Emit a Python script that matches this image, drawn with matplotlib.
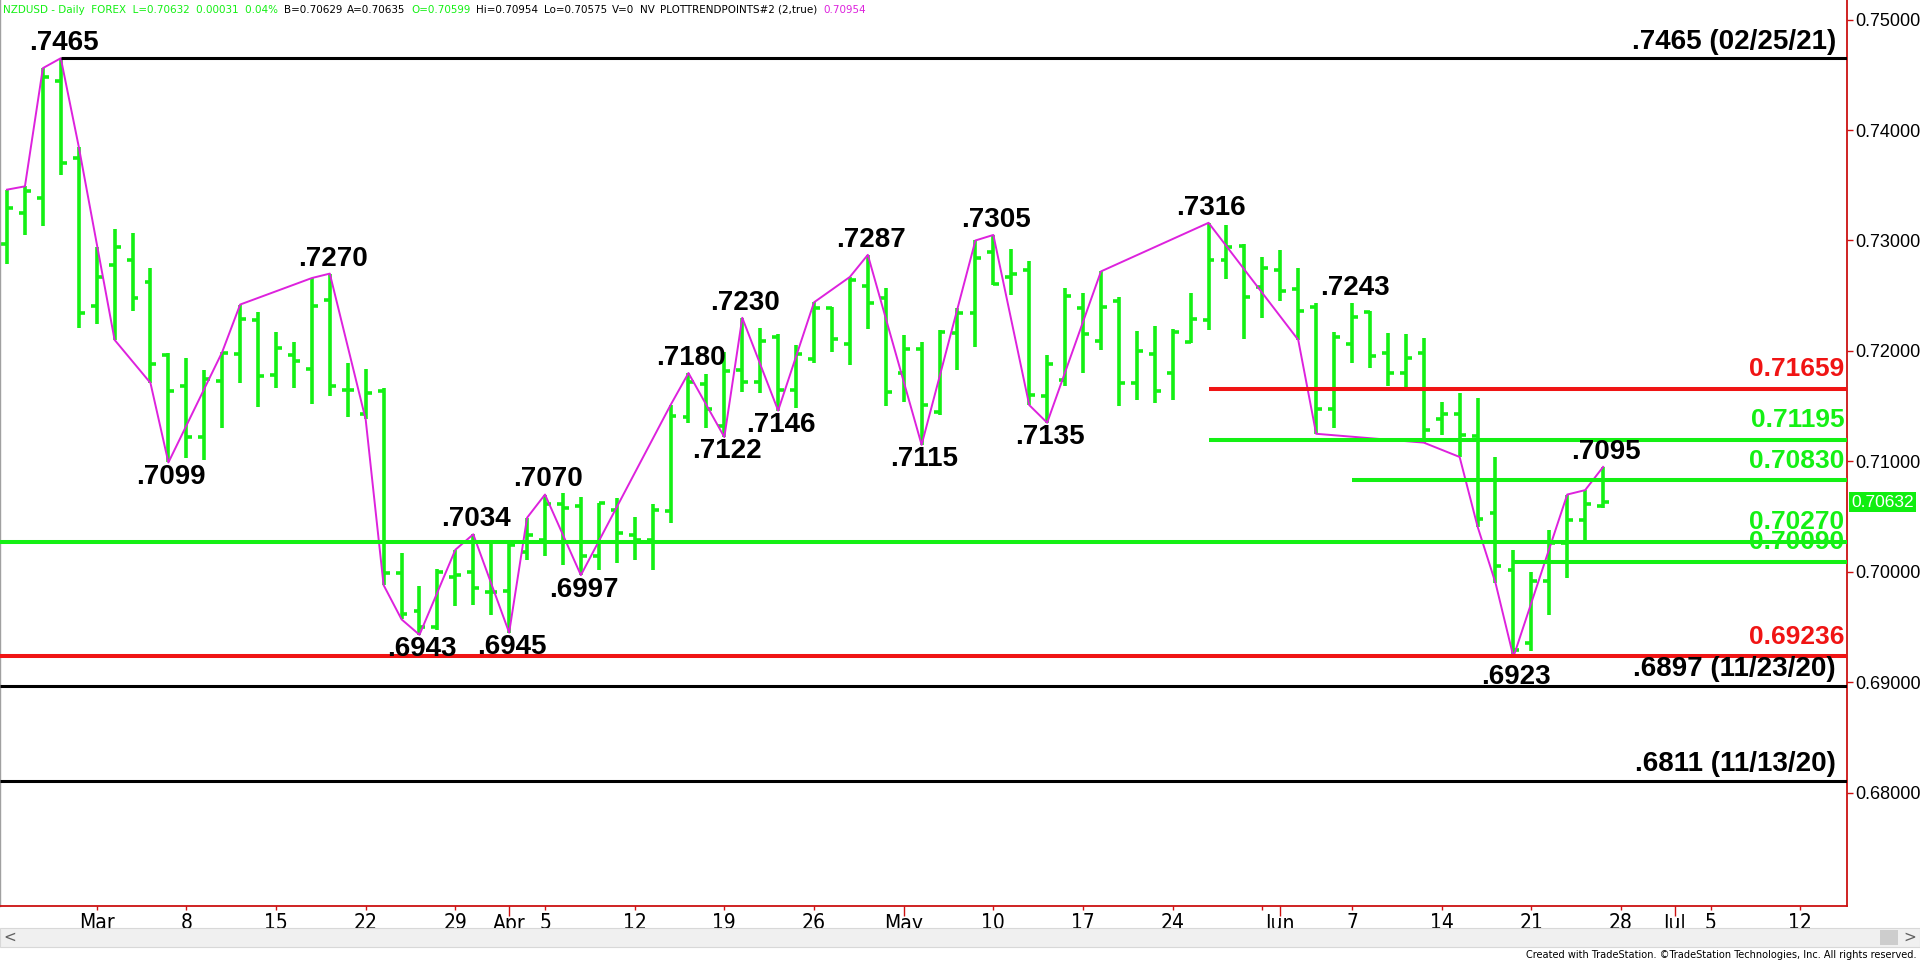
import matplotlib
matplotlib.use("Agg")
import matplotlib.pyplot as plt
from matplotlib import font_manager as fm
from matplotlib.font_manager import FontProperties
from matplotlib.patches import Rectangle
import numpy as np

W, H = 1920, 963

# daily bars, index 0 = Mon 22 Feb 2021 (trading days only)
opens = [0.7297, 0.7325, 0.7338, 0.7444, 0.7375, 0.7241, 0.7278, 0.7282, 0.7262, 0.7196,
         0.7168, 0.7122, 0.7173, 0.7197, 0.7228, 0.7178, 0.7196, 0.7184, 0.7246, 0.7165,
         0.7143, 0.7164, 0.6999, 0.6965, 0.6950, 0.6995, 0.7000, 0.6982, 0.6983, 0.7018,
         0.7029, 0.7061, 0.7060, 0.7014, 0.7056, 0.7033, 0.7029, 0.7055, 0.7140, 0.7170,
         0.7132, 0.7183, 0.7172, 0.7213, 0.7165, 0.7193, 0.7239, 0.7206, 0.7259, 0.7248,
         0.7180, 0.7202, 0.7145, 0.7216, 0.7234, 0.7290, 0.7267, 0.7273, 0.7159, 0.7174,
         0.7239, 0.7209, 0.7245, 0.7171, 0.7197, 0.7180, 0.7208, 0.7228, 0.7282, 0.7295,
         0.7258, 0.7273, 0.7256, 0.7240, 0.7147, 0.7206, 0.7235, 0.7198, 0.7180, 0.7198,
         0.7138, 0.7143, 0.7123, 0.7053, 0.7002, 0.6936, 0.6992, 0.7026, 0.7047, 0.7060]
highs = [0.7346, 0.7349, 0.7456, 0.7465, 0.7385, 0.7294, 0.7310, 0.7307, 0.7275, 0.7198,
         0.7194, 0.7183, 0.7199, 0.7242, 0.7235, 0.7217, 0.7208, 0.7266, 0.7270, 0.7189,
         0.7184, 0.7166, 0.7017, 0.6987, 0.7003, 0.7020, 0.7034, 0.7026, 0.7026, 0.7049,
         0.7070, 0.7071, 0.7068, 0.7062, 0.7067, 0.7050, 0.7061, 0.7151, 0.7180, 0.7179,
         0.7199, 0.7230, 0.7221, 0.7215, 0.7205, 0.7244, 0.7240, 0.7267, 0.7287, 0.7257,
         0.7214, 0.7208, 0.7219, 0.7239, 0.7300, 0.7305, 0.7292, 0.7281, 0.7196, 0.7257,
         0.7252, 0.7272, 0.7249, 0.7218, 0.7223, 0.7220, 0.7252, 0.7316, 0.7314, 0.7297,
         0.7285, 0.7291, 0.7275, 0.7243, 0.7217, 0.7243, 0.7236, 0.7216, 0.7215, 0.7212,
         0.7154, 0.7162, 0.7157, 0.7104, 0.7020, 0.7000, 0.7038, 0.7070, 0.7074, 0.7095]
lows = [0.7279, 0.7305, 0.7313, 0.7359, 0.7221, 0.7224, 0.7210, 0.7236, 0.7171, 0.7099,
        0.7103, 0.7101, 0.7130, 0.7171, 0.7149, 0.7166, 0.7166, 0.7152, 0.7159, 0.7140,
        0.7138, 0.6988, 0.6957, 0.6943, 0.6947, 0.6969, 0.6970, 0.6961, 0.6945, 0.7011,
        0.7014, 0.7006, 0.6997, 0.7002, 0.7008, 0.7011, 0.7002, 0.7044, 0.7135, 0.7130,
        0.7122, 0.7163, 0.7162, 0.7146, 0.7148, 0.7189, 0.7199, 0.7187, 0.7220, 0.7150,
        0.7154, 0.7115, 0.7142, 0.7183, 0.7204, 0.7260, 0.7251, 0.7151, 0.7135, 0.7168,
        0.7180, 0.7201, 0.7150, 0.7156, 0.7153, 0.7156, 0.7207, 0.7219, 0.7265, 0.7211,
        0.7230, 0.7245, 0.7210, 0.7125, 0.7130, 0.7189, 0.7185, 0.7168, 0.7164, 0.7117,
        0.7124, 0.7104, 0.7041, 0.6990, 0.6923, 0.6928, 0.6961, 0.6994, 0.7026, 0.7058]
closes = [0.7329, 0.7345, 0.7448, 0.7370, 0.7234, 0.7267, 0.7294, 0.7248, 0.7188, 0.7164,
          0.7122, 0.7175, 0.7198, 0.7229, 0.7177, 0.7203, 0.7191, 0.7241, 0.7168, 0.7165,
          0.7162, 0.6999, 0.6962, 0.6950, 0.7000, 0.6997, 0.6985, 0.6982, 0.7024, 0.7033,
          0.7061, 0.7058, 0.7014, 0.7062, 0.7035, 0.7029, 0.7056, 0.7141, 0.7172, 0.7147,
          0.7182, 0.7172, 0.7209, 0.7165, 0.7197, 0.7239, 0.7211, 0.7264, 0.7243, 0.7163,
          0.7202, 0.7151, 0.7217, 0.7234, 0.7284, 0.7261, 0.7270, 0.7160, 0.7188, 0.7250,
          0.7215, 0.7240, 0.7171, 0.7200, 0.7164, 0.7217, 0.7229, 0.7282, 0.7294, 0.7249,
          0.7275, 0.7254, 0.7236, 0.7147, 0.7213, 0.7231, 0.7195, 0.7180, 0.7194, 0.7128,
          0.7143, 0.7124, 0.7048, 0.7005, 0.6929, 0.6992, 0.7026, 0.7047, 0.7061, 0.70632]

# PLOTTRENDPOINTS zigzag: bar index and which end of the bar
trend_idx = [0, 1, 2, 3, 4, 6, 8, 9, 12, 13, 17, 18, 20, 21, 22, 23, 25, 26, 28, 29,
             30, 32, 37, 38, 40, 41, 43, 45, 47, 48, 51, 54, 55, 57, 58, 61, 67, 72, 73, 79,
             81, 82, 83, 84, 87, 88, 89]
trend_side = "HHHHHLLLHHHHLLLLHHLHHLHHLHLHHHLHHLLHHLLLLLLLHHH"

# swing labels
swing_idx = [3, 9, 18, 23, 26, 28, 30, 32, 38, 40, 41, 43, 48, 51, 55, 58, 67, 75, 84, 89]
swing_side = "HLHLHLHLHLHLHLHLHHLH"

# horizontal levels
level_px = [0.7465, 0.71659, 0.71195, 0.70830, 0.70270, 0.70090, 0.69236, 0.6897, 0.6811]
level_from = [3, 67, 67, 75, None, 84, None, None, None]
level_kind = ["black", "red", "green", "green", "green", "green", "red", "black", "black"]
level_text = [".7465 (02/25/21)", None, None, None, None, None, None,
              ".6897 (11/23/20)", ".6811 (11/13/20)"]

week_idx = [5, 10, 15, 20, 25, 30, 35, 40, 45, 55, 60, 65, 70, 75, 80, 85, 90, 95, 100]
week_lbl = ["Mar", "8", "15", "22", "29", "5", "12", "19", "26", "10", "17", "24", "",
            "7", "14", "21", "28", "5", "12"]
month_idx = [28, 50, 71, 93]
month_lbl = ["Apr", "May", "Jun", "Jul"]

last_price = 0.70632
header = [("NZDUSD - Daily  FOREX  L=0.70632  0.00031  0.04%", "green"),
          ("B=0.70629", "black"), ("A=0.70635", "black"), ("O=0.70599", "green"),
          ("Hi=0.70954", "black"), ("Lo=0.70575", "black"), ("V=0", "black"),
          ("NV", "black"), ("PLOTTRENDPOINTS#2 (2,true)", "black"), ("0.70954", "magenta")]
footer = "Created with TradeStation. \u00a9TradeStation Technologies, Inc. All rights reserved."

GREEN = "#14f014"
RED = "#f01414"
AXRED = "#cc1111"
MAGENTA = "#dd22dd"
COLORS = {"green": GREEN, "red": RED, "black": "black", "magenta": MAGENTA}

SANS = "Liberation Sans"


def find_narrow():
    best = None
    for f in fm.fontManager.ttflist:
        n = f.name
        if "Mono" in n or "Serif" in n:
            continue
        w = f.weight if isinstance(f.weight, int) else (400 if f.weight in ("normal", "regular", "book") else 700)
        if w > 500 or f.style != "normal":
            continue
        if "Narrow" in n or "Condensed" in n or f.stretch in ("condensed", "semi-condensed", 375, 300):
            rank = 0 if "Liberation" in n else 1
            if best is None or rank < best[0]:
                best = (rank, f.fname)
    return best[1] if best else None


nfile = find_narrow()


def nprops(size):
    if nfile:
        return FontProperties(fname=nfile, size=size)
    return FontProperties(family=SANS, size=size * 0.85)


fig = plt.figure(figsize=(W / 100, H / 100), dpi=100, facecolor="white")
ax = fig.add_axes([0, 57 / H, 1847 / W, 906 / H])
ax.set_xlim(-0.39, 102.6)
ax.set_ylim(0.66975, 0.75177)

idx = np.arange(len(opens))
tw = 0.33
ax.vlines(idx, lows, highs, color=GREEN, lw=2.6, zorder=2)
ax.hlines(opens, idx - tw, idx, color=GREEN, lw=2.6, zorder=2)
ax.hlines(closes, idx, idx + tw, color=GREEN, lw=2.6, zorder=2)

tp = [highs[i] if s == "H" else lows[i] for i, s in zip(trend_idx, trend_side)]
ax.plot(trend_idx, tp, color=MAGENTA, lw=1.4, zorder=3)

xmin, xmax = ax.get_xlim()
for p, start, kind, txt in zip(level_px, level_from, level_kind, level_text):
    x0 = xmin if start is None else start
    lw = 2.2 if kind == "black" else 2.9
    ax.hlines(p, x0, xmax, color=COLORS[kind], lw=lw, zorder=4)
    if txt is None:
        ax.annotate(f"{p:.5f}", xy=(1, p), xycoords=("axes fraction", "data"),
                    xytext=(-2, 5.5), textcoords="offset points", ha="right", va="bottom",
                    color=COLORS[kind], fontsize=19, fontweight="bold", family=SANS, zorder=6)
    else:
        ax.annotate(txt, xy=(1, p), xycoords=("axes fraction", "data"),
                    xytext=(-8, 2.5), textcoords="offset points", ha="right", va="bottom",
                    color="black", fontsize=20, fontweight="bold", family=SANS, zorder=6)

for i, s in zip(swing_idx, swing_side):
    if s == "H":
        p = highs[i]
        off, va = 1.5, "bottom"
    else:
        p = lows[i]
        off, va = (-5 if i == 84 else -1), "top"
    ax.annotate(f"{p:.4f}"[1:], xy=(i, p), xytext=(2, off), textcoords="offset points",
                ha="center", va=va, fontsize=20, fontweight="bold", family=SANS,
                color="black", zorder=6)

# axes styling
ax.spines["top"].set_visible(False)
ax.spines["left"].set_color("#a0a0a0")
ax.spines["left"].set_linewidth(1.0)
for side in ("right", "bottom"):
    ax.spines[side].set_color(AXRED)
    ax.spines[side].set_linewidth(1.3)

ax.yaxis.tick_right()
yt = np.arange(0.68, 0.7501, 0.01)
ax.set_yticks(yt)
ax.set_yticklabels([f"{v:.5f}" for v in yt])
ax.tick_params(axis="y", colors=AXRED, labelcolor="black", length=4, width=1,
               labelsize=13, pad=2)
for lb in ax.get_yticklabels():
    lb.set_family(SANS)

ax.set_xticks(week_idx, week_lbl)
ax.set_xticks(month_idx, month_lbl, minor=True)
ax.tick_params(axis="x", which="major", colors=AXRED, labelcolor="black", length=3,
               width=1, pad=2)
ax.tick_params(axis="x", which="minor", colors=AXRED, labelcolor="black", length=7,
               width=1, pad=-1)
for lb in ax.get_xticklabels() + ax.get_xticklabels(minor=True):
    lb.set_fontproperties(nprops(15))

# last price box
ax.annotate(f"{last_price:.5f}", xy=(1, last_price), xycoords=("axes fraction", "data"),
            xytext=(3, 0), textcoords="offset points", ha="left", va="center",
            color="white", fontsize=12.5, family=SANS, annotation_clip=False,
            bbox=dict(boxstyle="square,pad=0.12", fc="#10ee10", ec="none"), zorder=7)

# header line, sized so that it ends near x = 860 px
r = fig.canvas.get_renderer()
hsize = 12.0
probe = [fig.text(0, 0, s, fontproperties=nprops(hsize)) for s, _ in header]
total = sum(t.get_window_extent(r).width for t in probe) + 8 * (len(header) - 1)
for t in probe:
    t.remove()
hsize *= min(1.0, 860 / total)
x = 3
for s, c in header:
    t = fig.text(x / W, 1 - 10 / H, s, color=COLORS[c], fontproperties=nprops(hsize),
                 ha="left", va="center")
    x += t.get_window_extent(r).width + 8 * hsize / 12

# scroll bar and footer
fig.patches.append(Rectangle((0, 16 / H), 1, 19 / H, transform=fig.transFigure,
                             fc="#f0f0f0", ec="#d8d8d8", lw=0.8))
fig.patches.append(Rectangle((1880 / W, 18 / H), 18 / W, 15 / H, transform=fig.transFigure,
                             fc="#cdcdcd", ec="none"))
fig.text(10 / W, 25.5 / H, "<", fontsize=11, color="#606060", ha="center", va="center")
fig.text(1910 / W, 25.5 / H, ">", fontsize=11, color="#606060", ha="center", va="center")
fsize = 12.0
ft = fig.text(1916 / W, 8 / H, footer, fontproperties=nprops(fsize), ha="right",
              va="center", color="black")
fw = ft.get_window_extent(r).width
ft.set_fontproperties(nprops(fsize * min(1.0, 390 / fw)))

fig.savefig("out.png", dpi=100, facecolor="white")
